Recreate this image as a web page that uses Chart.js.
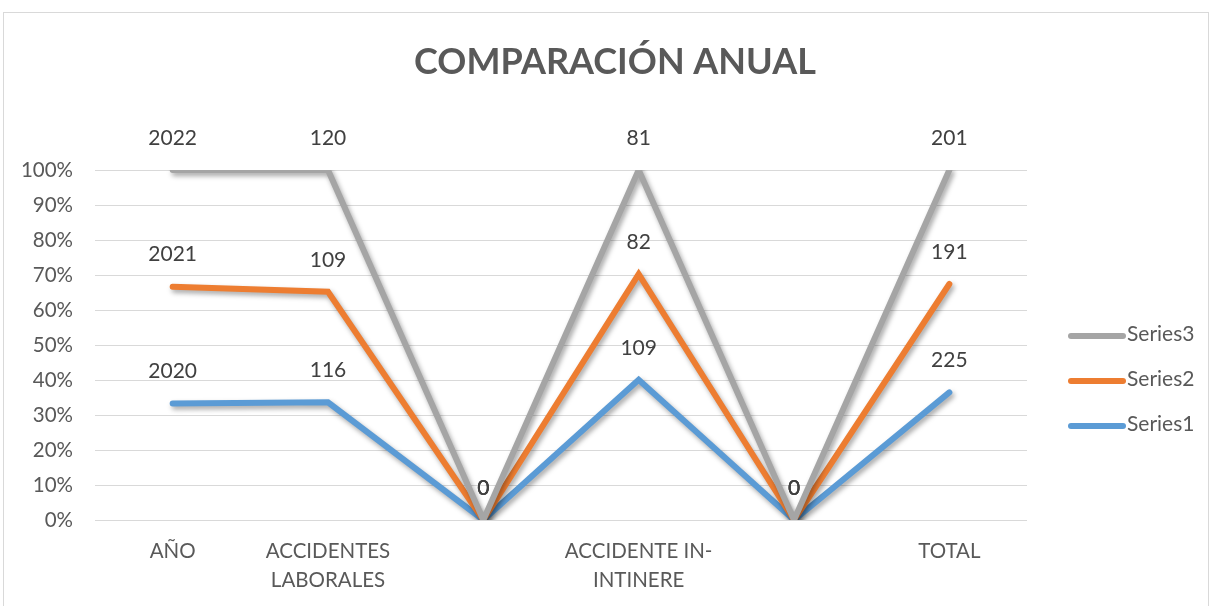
<!DOCTYPE html>
<html>
<head>
<meta charset="utf-8">
<script src="https://cdn.jsdelivr.net/npm/chart.js@4"></script>
<style>
  body { margin: 0; background: #fff; }
  #wrap { position: relative; width: 1213px; height: 606px; }
</style>
</head>
<body>
<div id="wrap"><canvas id="comparacionChart"></canvas></div>
<script>
const categories = ['AÑO', ['ACCIDENTES', 'LABORALES'], '', ['ACCIDENTE IN-', 'INTINERE'], '', 'TOTAL'];
const series1 = [2020, 116, 0, 109, 0, 225];
const series2 = [2021, 109, 0, 82, 0, 191];
const series3 = [2022, 120, 0, 81, 0, 201];
const yTicks = [0, 10, 20, 30, 40, 50, 60, 70, 80, 90, 100];

const FONT = "Lato, 'Noto Sans', sans-serif";
const TEXT = '#595959';

// 100% stacked: cumulative share of each category
const totals = series1.map((v, i) => v + series2[i] + series3[i]);
const pct = (v, i) => totals[i] === 0 ? 0 : v / totals[i] * 100;
const cum1 = series1.map((v, i) => pct(v, i));
const cum2 = series2.map((v, i) => pct(series1[i] + v, i));
const cum3 = series3.map((v, i) => pct(series1[i] + series2[i] + v, i));

const lineStyle = {
  borderWidth: 6,
  pointRadius: 0,
  pointHoverRadius: 0,
  tension: 0,
  borderCapStyle: 'round',
  borderJoinStyle: 'miter',
  fill: false
};

const data = {
  labels: categories,
  datasets: [
    Object.assign({ label: 'Series1', data: cum1, raw: series1, borderColor: '#5B9BD5', backgroundColor: '#5B9BD5', order: 3 }, lineStyle),
    Object.assign({ label: 'Series2', data: cum2, raw: series2, borderColor: '#ED7D31', backgroundColor: '#ED7D31', order: 2 }, lineStyle),
    Object.assign({ label: 'Series3', data: cum3, raw: series3, borderColor: '#A5A5A5', backgroundColor: '#A5A5A5', order: 1 }, lineStyle)
  ]
};

// soft shadow under the lines, like the office chart
const shadowPlugin = {
  id: 'shadow',
  beforeDatasetDraw(chart) {
    const ctx = chart.ctx;
    ctx.save();
    ctx.shadowColor = 'rgba(0,0,0,0.35)';
    ctx.shadowBlur = 5;
    ctx.shadowOffsetX = 2;
    ctx.shadowOffsetY = 3;
  },
  afterDatasetDraw(chart) {
    chart.ctx.restore();
  }
};

// outer frame + value labels + legend
const decorPlugin = {
  id: 'decor',
  beforeDraw(chart) {
    const ctx = chart.ctx;
    ctx.save();
    ctx.strokeStyle = '#d9d9d9';
    ctx.lineWidth = 1;
    ctx.strokeRect(3.5, 12.5, 1205, 600);
    ctx.restore();
  },
  afterDatasetsDraw(chart) {
    const ctx = chart.ctx;
    ctx.save();
    ctx.font = '21px ' + FONT;
    ctx.fillStyle = '#404040';
    ctx.textAlign = 'center';
    ctx.textBaseline = 'middle';
    chart.data.datasets.forEach((ds, di) => {
      const meta = chart.getDatasetMeta(di);
      meta.data.forEach((pt, i) => {
        ctx.fillText(String(ds.raw[i]), pt.x, pt.y - 32);
      });
    });

    // legend, reversed like the reference
    const items = chart.data.datasets.slice().reverse();
    items.forEach((ds, k) => {
      const y = 334 + k * 45;
      ctx.strokeStyle = ds.borderColor;
      ctx.lineWidth = 6;
      ctx.lineCap = 'round';
      ctx.beginPath();
      ctx.moveTo(1071, y + 2);
      ctx.lineTo(1123, y + 2);
      ctx.stroke();
      ctx.fillStyle = TEXT;
      ctx.textAlign = 'left';
      ctx.fillText(ds.label, 1127, y);
    });
    ctx.restore();
  }
};

const config = {
  type: 'line',
  data: data,
  options: {
    responsive: true,
    maintainAspectRatio: false,
    animation: false,
    layout: { padding: { left: 17, right: 0, top: 0, bottom: 0 } },
    plugins: {
      legend: { display: false },
      tooltip: { enabled: false },
      title: {
        display: true,
        text: 'COMPARACIÓN ANUAL',
        color: TEXT,
        font: { family: FONT, size: 36, weight: 'bold', lineHeight: 1.2 },
        padding: { top: 40.4, bottom: 86.4 }
      }
    },
    scales: {
      x: {
        offset: true,
        grid: { display: false, drawTicks: false },
        border: { display: false },
        ticks: {
          color: TEXT,
          font: { family: FONT, size: 20.5, lineHeight: 1.4 },
          padding: 17.5,
          maxRotation: 0,
          autoSkip: false
        },
        afterFit(s) { s.height = 86; }
      },
      y: {
        min: 0,
        max: 100,
        afterBuildTicks(s) { s.ticks = yTicks.map(v => ({ value: v })); },
        grid: { color: '#d9d9d9', lineWidth: 1, drawTicks: false },
        border: { display: false },
        ticks: {
          color: TEXT,
          font: { family: FONT, size: 20.5 },
          padding: 22,
          callback: v => v + '%'
        },
        afterFit(s) { s.width = 78; }
      },
      yRight: {
        position: 'right',
        display: true,
        grid: { display: false, drawTicks: false },
        border: { display: false },
        ticks: { display: false },
        afterFit(s) { s.width = 186; }
      }
    }
  },
  plugins: [shadowPlugin, decorPlugin]
};

let myChart = new Chart(document.getElementById('comparacionChart'), config);
</script>
</body>
</html>
